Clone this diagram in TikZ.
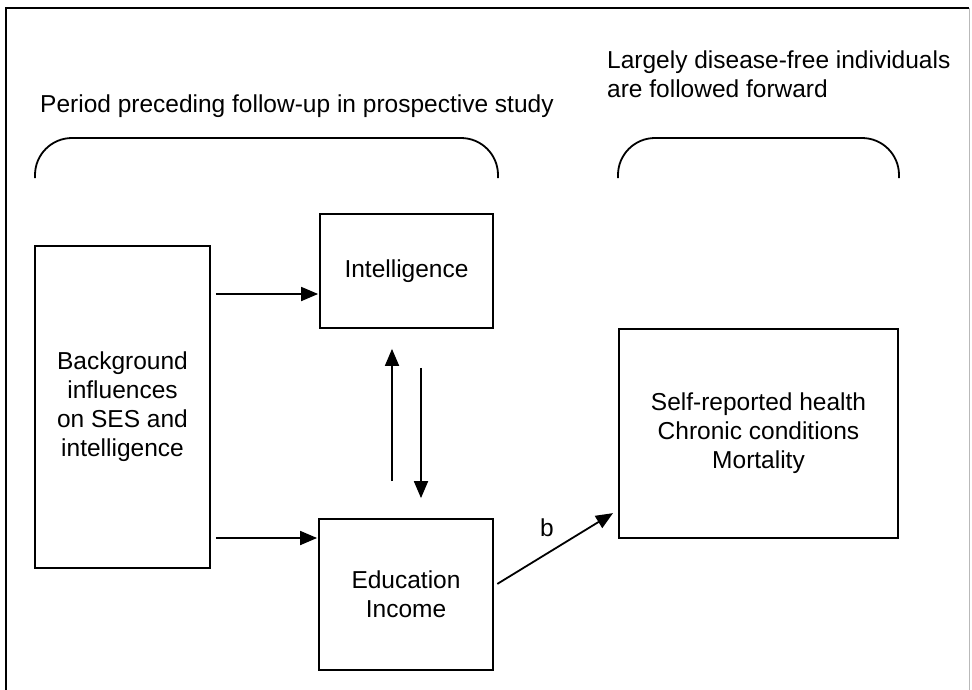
\documentclass[tikz,border=0pt]{standalone}
\usepackage{fontspec}
\setmainfont{Liberation Sans}
\usetikzlibrary{arrows.meta}
\begin{document}
\begin{tikzpicture}[x=1pt,y=-1pt,
  font=\fontsize{24.5}{29}\selectfont,
  boxnode/.style={draw,line width=1.8pt,inner sep=0pt,align=center},
  arr/.style={line width=1.8pt,-{Triangle[length=17pt,width=14pt]}},
  brace/.style={line width=1.8pt,rounded corners=37pt},
  lbl/.style={inner sep=0pt,anchor=base west}]
\useasboundingbox (0,0) rectangle (972,689);
% frame
\draw[line width=1.5pt] (6,700) -- (6,8) -- (969,8);
\draw[line width=1pt,gray!55] (969,8) -- (969,700);
% titles
\node[lbl] (t1) at (40,112) {Period preceding follow-up in prospective study};
\node[lbl] (t2) at (607,68) {Largely disease-free individuals};
\node[lbl] (t3) at (607,97) {are followed forward};
% brackets
\draw[brace] (35,178) -- (35,138) -- (498,138) -- (498,178);
\draw[brace] (618,178) -- (618,138) -- (899,138) -- (899,178);
% boxes
\node[boxnode,minimum width=175pt,minimum height=322pt] (bg) at (122.5,407) {Background\\influences\\on SES and\\intelligence};
\node[boxnode,minimum width=173pt,minimum height=114pt] (int) at (406.5,271) {Intelligence};
\node[boxnode,minimum width=174pt,minimum height=151pt] (edu) at (406,594.5) {Education\\Income};
\node[boxnode,minimum width=279pt,minimum height=209pt] (hl) at (758.5,433.5) {Self-reported health\\Chronic conditions\\Mortality};
% helper coordinates
\coordinate (ya) at (0,294);
\coordinate (yb) at (0,538);
\coordinate (ux) at (392,0);
\coordinate (dx) at (421,0);
\coordinate (bs) at (0,586);
\coordinate (be) at (0,510);
% connectors
\draw[arr,shorten <=5pt,shorten >=1pt] (bg.east |- ya) -- (int.west |- ya);
\draw[arr,shorten <=5pt,shorten >=1pt] (bg.east |- yb) -- (edu.west |- yb);
\draw[arr,shorten <=37pt,shorten >=20pt] (edu.north -| ux) -- (int.south -| ux);
\draw[arr,shorten <=39pt,shorten >=20pt] (int.south -| dx) -- (edu.north -| dx);
\draw[arr,shorten <=4pt,shorten >=6pt] (edu.east |- bs) -- (hl.west |- be);
\node (blab) at (547,528) {b};
\end{tikzpicture}
\end{document}
